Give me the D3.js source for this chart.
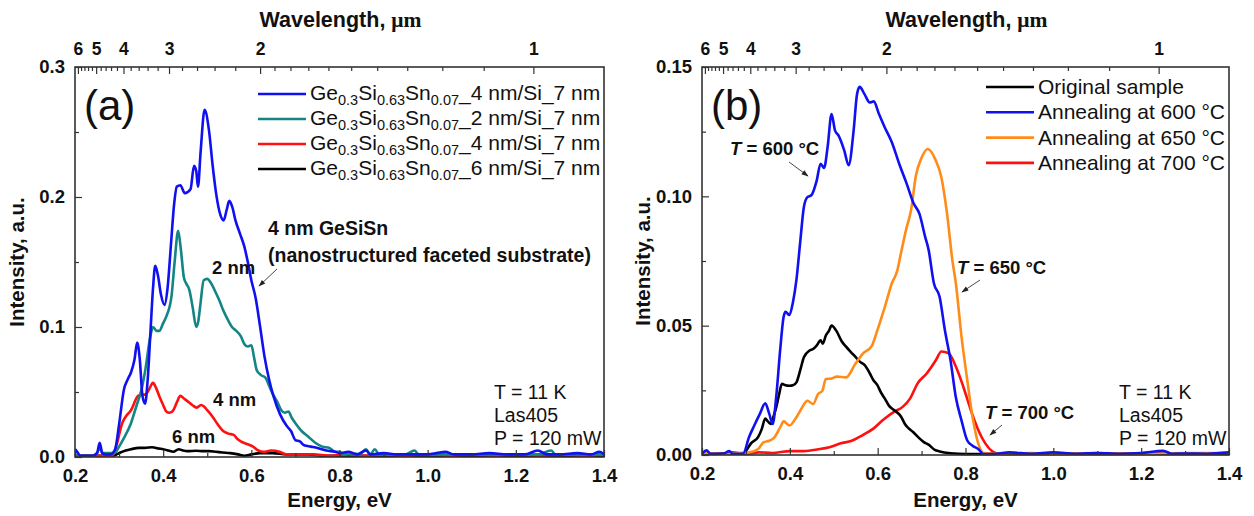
<!DOCTYPE html>
<html>
<head>
<meta charset="utf-8">
<script src="https://cdn.jsdelivr.net/npm/d3@7"></script>
<style>
  html, body { margin: 0; padding: 0; background: #fff; }
  svg { display: block; font-family: "Liberation Sans", Arial, sans-serif; }
</style>
</head>
<body>
<svg id="chart" width="1254" height="516"></svg>
<script>
// ---- Data: photoluminescence spectra, energy (eV) vs intensity (a.u.) ----

// Panel (a): Ge0.3Si0.63Sn0.07 layers of different thickness
const seriesA4nmFaceted = [
  [0.200,0.006],[0.205,0.004],[0.212,0.001],[0.225,0.001],[0.240,0.001],[0.250,0.003],[0.256,0.011],[0.262,0.003],
  [0.270,0.002],[0.280,0.002],[0.291,0.006],[0.300,0.025],[0.311,0.052],[0.320,0.060],[0.327,0.065],[0.335,0.075],
  [0.341,0.088],[0.347,0.075],[0.353,0.047],[0.359,0.041],[0.365,0.060],[0.371,0.095],[0.377,0.130],[0.382,0.147],
  [0.388,0.140],[0.395,0.125],[0.403,0.117],[0.410,0.130],[0.418,0.165],[0.425,0.195],[0.431,0.208],[0.439,0.209],
  [0.449,0.203],[0.462,0.206],[0.470,0.224],[0.475,0.220],[0.479,0.208],[0.485,0.235],[0.494,0.267],[0.504,0.251],
  [0.512,0.225],[0.520,0.203],[0.530,0.186],[0.537,0.182],[0.544,0.190],[0.550,0.197],[0.557,0.192],[0.564,0.182],
  [0.574,0.172],[0.584,0.162],[0.592,0.150],[0.600,0.136],[0.610,0.122],[0.620,0.100],[0.630,0.077],[0.640,0.060],
  [0.650,0.047],[0.665,0.033],[0.680,0.024],[0.690,0.020],[0.700,0.013],[0.710,0.012],[0.720,0.009],[0.735,0.008],
  [0.750,0.007],[0.770,0.005],[0.790,0.004],[0.800,0.003],[0.820,0.004],[0.840,0.002],[0.860,0.005],[0.870,0.002],
  [0.900,0.003],[0.930,0.002],[0.960,0.002],[0.990,0.002],[1.020,0.003],[1.040,0.004],[1.060,0.002],[1.100,0.002],
  [1.140,0.003],[1.180,0.002],[1.220,0.002],[1.250,0.005],[1.270,0.002],[1.300,0.002],[1.340,0.003],[1.370,0.002],
  [1.390,0.004],[1.400,0.002]
];
const seriesA2nm = [
  [0.200,0.002],[0.220,0.001],[0.240,0.001],[0.250,0.003],[0.256,0.007],[0.262,0.003],[0.280,0.003],[0.290,0.003],
  [0.300,0.008],[0.310,0.014],[0.327,0.026],[0.340,0.040],[0.351,0.052],[0.360,0.068],[0.371,0.093],[0.377,0.100],
  [0.385,0.097],[0.391,0.097],[0.400,0.103],[0.407,0.108],[0.419,0.124],[0.426,0.150],[0.434,0.174],[0.440,0.160],
  [0.447,0.138],[0.453,0.133],[0.459,0.129],[0.467,0.115],[0.475,0.100],[0.480,0.105],[0.484,0.116],[0.492,0.136],
  [0.500,0.137],[0.508,0.134],[0.520,0.126],[0.528,0.120],[0.536,0.113],[0.546,0.106],[0.556,0.100],[0.566,0.097],
  [0.576,0.093],[0.584,0.087],[0.592,0.085],[0.600,0.086],[0.606,0.077],[0.612,0.067],[0.622,0.063],[0.632,0.061],
  [0.640,0.055],[0.648,0.049],[0.658,0.043],[0.668,0.036],[0.676,0.034],[0.684,0.035],[0.692,0.030],[0.700,0.026],
  [0.714,0.020],[0.728,0.016],[0.745,0.011],[0.761,0.008],[0.777,0.007],[0.790,0.004],[0.800,0.004],[0.810,0.002],
  [0.830,0.003],[0.845,0.002],[0.860,0.006],[0.870,0.002],[0.880,0.006],[0.890,0.002],[0.920,0.002],[0.950,0.002],
  [0.970,0.005],[0.980,0.002],[1.010,0.002],[1.050,0.002],[1.100,0.002],[1.150,0.002],[1.200,0.002],[1.250,0.002],
  [1.280,0.005],[1.290,0.002],[1.330,0.002],[1.400,0.002]
];
const seriesA4nm = [
  [0.200,0.001],[0.250,0.001],[0.280,0.001],[0.287,0.002],[0.295,0.010],[0.307,0.026],[0.315,0.031],[0.327,0.036],
  [0.343,0.047],[0.352,0.048],[0.359,0.048],[0.368,0.052],[0.377,0.057],[0.384,0.053],[0.391,0.047],[0.400,0.040],
  [0.407,0.035],[0.415,0.034],[0.423,0.036],[0.431,0.042],[0.439,0.047],[0.447,0.045],[0.455,0.043],[0.466,0.040],
  [0.476,0.038],[0.486,0.040],[0.492,0.039],[0.500,0.036],[0.512,0.031],[0.524,0.025],[0.536,0.020],[0.548,0.018],
  [0.560,0.017],[0.568,0.014],[0.576,0.012],[0.590,0.010],[0.604,0.008],[0.616,0.005],[0.628,0.004],[0.645,0.005],
  [0.664,0.004],[0.680,0.002],[0.700,0.002],[0.740,0.002],[0.780,0.001],[0.820,0.002],[0.860,0.001],[0.900,0.002],
  [0.950,0.001],[1.000,0.002],[1.050,0.001],[1.100,0.002],[1.150,0.001],[1.200,0.002],[1.260,0.001],[1.300,0.002],
  [1.350,0.001],[1.400,0.002]
];
const seriesA6nm = [
  [0.200,0.001],[0.250,0.001],[0.287,0.001],[0.300,0.003],[0.315,0.005],[0.327,0.006],[0.345,0.007],[0.359,0.007],
  [0.375,0.0075],[0.390,0.0065],[0.400,0.006],[0.412,0.005],[0.423,0.004],[0.435,0.006],[0.445,0.005],[0.455,0.0045],
  [0.475,0.0048],[0.490,0.0045],[0.504,0.0045],[0.520,0.004],[0.535,0.0035],[0.552,0.003],[0.570,0.002],[0.584,0.001],
  [0.600,0.002],[0.620,0.003],[0.648,0.003],[0.680,0.002],[0.700,0.002],[0.728,0.002],[0.760,0.001],[0.800,0.001],
  [0.850,0.001],[0.900,0.001],[1.000,0.001],[1.100,0.001],[1.200,0.001],[1.300,0.001],[1.400,0.001]
];

// Panel (b): original sample and after annealing
const seriesBOriginal = [
  [0.200,0.0005],[0.250,0.0005],[0.294,0.0005],[0.302,0.002],[0.311,0.0044],[0.328,0.007],[0.336,0.010],[0.344,0.0141],
  [0.350,0.013],[0.357,0.012],[0.363,0.015],[0.369,0.0184],[0.375,0.023],[0.382,0.0275],[0.390,0.027],[0.399,0.0268],
  [0.407,0.027],[0.415,0.0281],[0.424,0.033],[0.432,0.0378],[0.445,0.0404],[0.453,0.041],[0.461,0.0423],[0.470,0.0443],
  [0.475,0.043],[0.482,0.0462],[0.489,0.048],[0.495,0.050],[0.507,0.0477],[0.518,0.044],[0.528,0.0419],[0.538,0.040],
  [0.549,0.038],[0.560,0.036],[0.570,0.0348],[0.582,0.0316],[0.590,0.029],[0.599,0.0271],[0.608,0.024],[0.616,0.0219],
  [0.626,0.019],[0.637,0.0174],[0.653,0.0149],[0.662,0.012],[0.670,0.0104],[0.680,0.009],[0.691,0.0071],[0.705,0.005],
  [0.716,0.004],[0.730,0.002],[0.741,0.0014],[0.766,0.0007],[0.800,0.0004],[0.900,0.0004],[1.000,0.0004],
  [1.100,0.0004],[1.200,0.0004],[1.300,0.0004],[1.400,0.0004]
];
const seriesB600 = [
  [0.200,0.0005],[0.210,0.0018],[0.220,0.0005],[0.250,0.0006],[0.262,0.0015],[0.270,0.0005],[0.285,0.0005],[0.294,0.0006],
  [0.307,0.0069],[0.319,0.0114],[0.332,0.016],[0.344,0.020],[0.353,0.016],[0.361,0.012],[0.369,0.0225],[0.378,0.0406],
  [0.386,0.0535],[0.390,0.0554],[0.399,0.0541],[0.407,0.059],[0.415,0.0677],[0.424,0.083],[0.432,0.0959],[0.440,0.0997],
  [0.449,0.1004],[0.461,0.106],[0.470,0.1126],[0.478,0.111],[0.486,0.119],[0.495,0.1318],[0.503,0.1254],[0.511,0.1235],
  [0.524,0.1177],[0.534,0.112],[0.545,0.125],[0.553,0.1395],[0.559,0.1423],[0.570,0.1395],[0.582,0.1363],[0.591,0.1367],
  [0.603,0.1318],[0.616,0.1267],[0.632,0.121],[0.649,0.1126],[0.666,0.1049],[0.682,0.0972],[0.695,0.0933],[0.708,0.0844],
  [0.716,0.0793],[0.728,0.0664],[0.741,0.0612],[0.753,0.0483],[0.766,0.0365],[0.778,0.0223],[0.791,0.0133],[0.804,0.0056],
  [0.816,0.0036],[0.829,0.0023],[0.841,0.0004],[0.870,0.0005],[0.900,0.0010],[0.950,0.0005],[1.000,0.0010],
  [1.050,0.0005],[1.100,0.0008],[1.150,0.0005],[1.200,0.0008],[1.250,0.0016],[1.270,0.0005],[1.300,0.0006],
  [1.350,0.0005],[1.400,0.0010]
];
const seriesB650 = [
  [0.200,0.0008],[0.250,0.0005],[0.280,0.0008],[0.307,0.001],[0.328,0.0023],[0.340,0.0049],[0.353,0.0055],[0.365,0.0068],
  [0.378,0.0107],[0.386,0.013],[0.399,0.0114],[0.415,0.0146],[0.428,0.0184],[0.440,0.021],[0.453,0.0197],[0.464,0.0235],
  [0.474,0.0248],[0.482,0.0294],[0.495,0.0296],[0.507,0.0303],[0.528,0.030],[0.549,0.0352],[0.566,0.0391],[0.587,0.0423],
  [0.599,0.0481],[0.616,0.0571],[0.632,0.0662],[0.645,0.0715],[0.653,0.078],[0.666,0.088],[0.676,0.0946],[0.687,0.108],
  [0.699,0.1145],[0.714,0.1183],[0.732,0.114],[0.745,0.1074],[0.758,0.0933],[0.770,0.0754],[0.778,0.0664],[0.791,0.0457],
  [0.804,0.029],[0.816,0.0148],[0.829,0.0045],[0.841,0.0008],[0.880,0.0005],[0.950,0.0008],[1.000,0.0005],
  [1.100,0.0008],[1.200,0.0005],[1.300,0.0008],[1.400,0.0008]
];
const seriesB700 = [
  [0.200,0.0008],[0.230,0.0004],[0.270,0.0010],[0.300,0.0004],[0.330,0.0010],[0.360,0.0008],[0.400,0.0015],[0.432,0.0015],
  [0.465,0.0022],[0.490,0.003],[0.516,0.0045],[0.541,0.0055],[0.566,0.0077],[0.591,0.0103],[0.612,0.0135],[0.637,0.0167],
  [0.657,0.0186],[0.674,0.0219],[0.691,0.0277],[0.712,0.0316],[0.733,0.0368],[0.745,0.040],[0.762,0.0393],[0.778,0.0342],
  [0.795,0.0264],[0.812,0.0174],[0.829,0.0097],[0.845,0.0045],[0.862,0.0013],[0.874,0.0006],[0.950,0.0006],
  [1.050,0.0006],[1.150,0.0006],[1.250,0.0006],[1.400,0.0006]
];

// Axis ticks
const energyTicks = [0.2, 0.4, 0.6, 0.8, 1.0, 1.2, 1.4];
const energyMinorTicks = [0.3, 0.5, 0.7, 0.9, 1.1, 1.3];
const intensityTicksA = [0, 0.1, 0.2, 0.3];
const intensityMinorA = [0.05, 0.15, 0.25];
const intensityTicksB = [0, 0.05, 0.10, 0.15];
const intensityMinorB = [0.025, 0.075, 0.125];
const wavelengthTicks = [6, 5, 4, 3, 2, 1];
const wavelengthMinor = [6.2, 5.8, 5.6, 5.4, 5.2, 4.8, 4.6, 4.4, 4.2, 3.8, 3.6, 3.4, 3.2, 2.8, 2.6, 2.4, 2.2,
                         1.9, 1.8, 1.7, 1.6, 1.5, 1.4, 1.3, 1.2, 1.1];
const HC = 1.2398; // eV·µm

// Legends and labels
const legendA = [
  { thick: "4", color: "#1010f0" },
  { thick: "2", color: "#138585" },
  { thick: "4", color: "#ff1010" },
  { thick: "6", color: "#000000" }
];
const legendB = [
  { label: "Original sample",       color: "#000000" },
  { label: "Annealing at 600 °C",  color: "#1010f0" },
  { label: "Annealing at 650 °C",  color: "#ff8c1a" },
  { label: "Annealing at 700 °C",  color: "#ff1010" }
];

const svg = d3.select("#chart");
svg.append("rect").attr("width", 1254).attr("height", 516).attr("fill", "#fff");

const defs = svg.append("defs");
defs.append("marker").attr("id", "arrow").attr("viewBox", "0 0 10 10")
  .attr("refX", 9).attr("refY", 5).attr("markerWidth", 9).attr("markerHeight", 7)
  .attr("markerUnits", "userSpaceOnUse").attr("orient", "auto")
  .append("path").attr("d", "M0,1.5 L10,5 L0,8.5 Z").attr("fill", "#222");

const TICK_FONT = 18.5;
const TITLE_FONT = 20.5;
const LEGEND_FONT = 21;
const NOTE_FONT = 19.5;

function panel(cfg) {
  const x = d3.scaleLinear().domain([0.2, 1.4]).range([cfg.left, cfg.right]);
  const y = d3.scaleLinear().domain([0, cfg.ymax]).range([cfg.bottom, cfg.top]);
  const g = svg.append("g");
  const frameColor = "#333";

  // clip for curves
  const clipId = "clip" + cfg.id;
  defs.append("clipPath").attr("id", clipId).append("rect")
    .attr("x", cfg.left).attr("y", cfg.top)
    .attr("width", cfg.right - cfg.left).attr("height", cfg.bottom - cfg.top + 2);

  const line = d3.line().x(d => x(d[0])).y(d => y(d[1])).curve(d3.curveMonotoneX);
  const curves = g.append("g").attr("clip-path", `url(#${clipId})`);
  cfg.series.forEach(s => {
    curves.append("path").datum(s.data).attr("d", line)
      .attr("fill", "none").attr("stroke", s.color).attr("stroke-width", 2.6)
      .attr("stroke-linejoin", "round");
  });

  // bottom axis (ticks inward)
  const bottom = d3.axisBottom(x).tickValues(energyTicks).tickFormat(d3.format(".1f"))
    .tickSizeInner(-7).tickSizeOuter(0).tickPadding(12);
  const gb = g.append("g").attr("transform", `translate(0,${cfg.bottom})`).call(bottom);
  const bottomMinor = d3.axisBottom(x).tickValues(energyMinorTicks).tickFormat("").tickSizeInner(-4).tickSizeOuter(0);
  g.append("g").attr("transform", `translate(0,${cfg.bottom})`).call(bottomMinor);

  // left axis
  const left = d3.axisLeft(y).tickValues(cfg.yTicks).tickFormat(d3.format(cfg.yFmt))
    .tickSizeInner(-7).tickSizeOuter(0).tickPadding(10);
  const gl = g.append("g").attr("transform", `translate(${cfg.left},0)`).call(left);
  const leftMinor = d3.axisLeft(y).tickValues(cfg.yMinor).tickFormat("").tickSizeInner(-4).tickSizeOuter(0);
  g.append("g").attr("transform", `translate(${cfg.left},0)`).call(leftMinor);

  // top wavelength axis
  const top = d3.axisTop(x).tickValues(wavelengthTicks.map(l => HC / l))
    .tickFormat((d, i) => wavelengthTicks[i]).tickSizeInner(-7).tickSizeOuter(0).tickPadding(12);
  const gt = g.append("g").attr("transform", `translate(0,${cfg.top})`).call(top);
  const topMinor = d3.axisTop(x).tickValues(wavelengthMinor.map(l => HC / l).filter(e => e >= 0.2 && e <= 1.4))
    .tickFormat("").tickSizeInner(-4).tickSizeOuter(0);
  g.append("g").attr("transform", `translate(0,${cfg.top})`).call(topMinor);

  g.selectAll(".domain").remove();
  g.selectAll(".tick line").attr("stroke", frameColor).attr("stroke-width", 1.2);
  [gb, gl, gt].forEach(a => a.selectAll("text")
    .attr("font-family", "Liberation Sans, Arial, sans-serif")
    .attr("font-weight", "bold").attr("font-size", TICK_FONT).attr("fill", "#111"));
  gt.selectAll("text").attr("font-size", 17.5);

  // frame
  g.append("rect").attr("x", cfg.left).attr("y", cfg.top)
    .attr("width", cfg.right - cfg.left).attr("height", cfg.bottom - cfg.top)
    .attr("fill", "none").attr("stroke", frameColor).attr("stroke-width", 1.6);

  // axis titles
  const cx = (cfg.left + cfg.right) / 2;
  g.append("text").attr("x", cx).attr("y", 507).attr("text-anchor", "middle")
    .attr("font-weight", "bold").attr("font-size", TITLE_FONT).attr("fill", "#111").text("Energy, eV");
  const wt = g.append("text").attr("x", cx + 1).attr("y", 27).attr("text-anchor", "middle")
    .attr("font-weight", "bold").attr("font-size", 21.5).attr("fill", "#111");
  wt.append("tspan").text("Wavelength, ");
  wt.append("tspan").attr("font-family", "Liberation Serif, Times New Roman, serif").text("μm");
  g.append("text").attr("transform", `translate(${cfg.ytitleX},${(cfg.top + cfg.bottom) / 2}) rotate(-90)`)
    .attr("text-anchor", "middle").attr("font-weight", "bold").attr("font-size", TITLE_FONT).attr("fill", "#111")
    .text("Intensity, a.u.");

  // panel letter
  g.append("text").attr("x", cfg.left + 9).attr("y", 120).attr("font-size", 42).attr("fill", "#111")
    .text(cfg.letter);

  // measurement conditions
  const cond = ["T = 11 K", "Las405", "P = 120 mW"];
  cond.forEach((t, i) => g.append("text").attr("x", cfg.condX).attr("y", 399 + i * 23)
    .attr("font-size", 19.5).attr("fill", "#111").text(t));

  return { g, x, y };
}

function arrow(g, x1, y1, x2, y2) {
  g.append("line").attr("x1", x1).attr("y1", y1).attr("x2", x2).attr("y2", y2)
    .attr("stroke", "#333").attr("stroke-width", 0.9).attr("marker-end", "url(#arrow)");
}

// ---- Panel (a) ----
const pa = panel({
  id: "a", left: 75, right: 604, top: 67, bottom: 457, ymax: 0.3,
  yTicks: intensityTicksA, yMinor: intensityMinorA, yFmt: ".1f", ytitleX: 24,
  letter: "(a)", condX: 494,
  series: [
    { data: seriesA6nm, color: legendA[3].color },
    { data: seriesA4nm, color: legendA[2].color },
    { data: seriesA2nm, color: legendA[1].color },
    { data: seriesA4nmFaceted, color: legendA[0].color }
  ]
});

legendA.forEach((d, i) => {
  const yy = 94 + i * 25;
  pa.g.append("line").attr("x1", 258).attr("x2", 306).attr("y1", yy).attr("y2", yy)
    .attr("stroke", d.color).attr("stroke-width", 2.6);
  const t = pa.g.append("text").attr("x", 310).attr("y", yy + 6).attr("font-size", LEGEND_FONT).attr("fill", "#111");
  t.append("tspan").text("Ge");
  t.append("tspan").attr("font-size", 14.5).attr("dy", 5).text("0.3");
  t.append("tspan").attr("dy", -5).text("Si");
  t.append("tspan").attr("font-size", 14.5).attr("dy", 5).text("0.63");
  t.append("tspan").attr("dy", -5).text("Sn");
  t.append("tspan").attr("font-size", 14.5).attr("dy", 5).text("0.07");
  t.append("tspan").attr("dy", -5).text(`_${d.thick} nm/Si_7 nm`);
});

[["4 nm GeSiSn", 268, 235], ["(nanostructured faceted substrate)", 268, 262]].forEach(([s, xx, yy]) =>
  pa.g.append("text").attr("x", xx).attr("y", yy).attr("font-size", NOTE_FONT).attr("font-weight", "bold")
    .attr("fill", "#111").text(s));
[["2 nm", 212, 274], ["4 nm", 213, 406], ["6 nm", 172, 443]].forEach(([s, xx, yy]) =>
  pa.g.append("text").attr("x", xx).attr("y", yy).attr("font-size", 18.5).attr("font-weight", "bold")
    .attr("fill", "#111").text(s));
arrow(pa.g, 277, 269, 259, 286);

// ---- Panel (b) ----
const pb = panel({
  id: "b", left: 702, right: 1229, top: 67, bottom: 455, ymax: 0.15,
  yTicks: intensityTicksB, yMinor: intensityMinorB, yFmt: ".2f", ytitleX: 650,
  letter: "(b)", condX: 1119,
  series: [
    { data: seriesB700, color: legendB[3].color },
    { data: seriesBOriginal, color: legendB[0].color },
    { data: seriesB650, color: legendB[2].color },
    { data: seriesB600, color: legendB[1].color }
  ]
});

legendB.forEach((d, i) => {
  const yy = 87 + i * 25.3;
  pb.g.append("line").attr("x1", 986).attr("x2", 1034).attr("y1", yy).attr("y2", yy)
    .attr("stroke", d.color).attr("stroke-width", 2.6);
  pb.g.append("text").attr("x", 1038).attr("y", yy + 7).attr("font-size", LEGEND_FONT).attr("fill", "#111").text(d.label);
});

[["600", 730, 155], ["650", 957, 274], ["700", 985, 419]].forEach(([s, xx, yy]) => {
  const t = pb.g.append("text").attr("x", xx).attr("y", yy).attr("font-size", 18.5).attr("font-weight", "bold")
    .attr("fill", "#111");
  t.append("tspan").attr("font-style", "italic").text("T");
  t.append("tspan").text(` = ${s} °C`);
});
arrow(pb.g, 789, 162, 808, 176);
arrow(pb.g, 980, 280, 962, 292);
arrow(pb.g, 1002, 425, 990, 435);
</script>
</body>
</html>
